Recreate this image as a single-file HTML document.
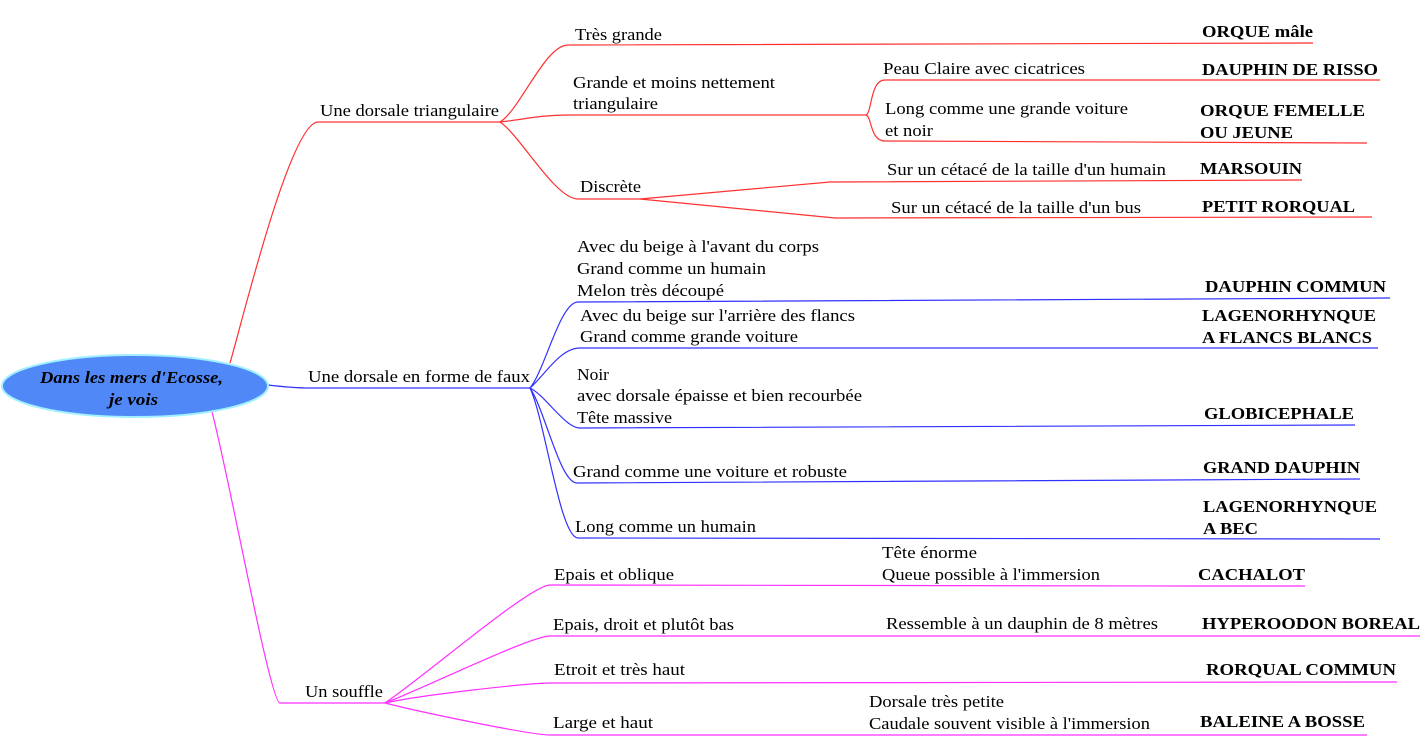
<!DOCTYPE html>
<html><head><meta charset="utf-8"><style>
html,body{margin:0;padding:0;background:#fff;}
svg{display:block;}
text{font-family:"Liberation Serif","Times New Roman",serif;font-size:17px;fill:#000;}
.b{font-weight:bold;font-size:17px;}
</style></head><body>
<svg width="1428" height="741" viewBox="0 0 1428 741" xmlns="http://www.w3.org/2000/svg">
<g fill="none" stroke-width="1.2">
<g stroke="#ff3030">
<path d="M230,363 C240,330 290,122 318,122 L500,122"/>
<path d="M500,122 C520,110 545,45 568,45 L1313,43"/>
<path d="M500,122 C520,120 540,115 568,115 L866,115 C872,113 870,80 885,80 L1380,80"/>
<path d="M866,115 C872,117 870,141 885,141 L1367,143"/>
<path d="M500,122 C520,135 555,199 578,199 L640,199"/>
<path d="M640,199 L830,182 L1302,180"/>
<path d="M640,199 L835,218 L1372,217"/>
</g>
<g stroke="#3030ff">
<path d="M268,385 C285,387 295,388 310,388 L530,388"/>
<path d="M530,388 C545,370 560,302 578,302 L1390,298"/>
<path d="M530,388 C545,375 560,348 580,348 L1378,348"/>
<path d="M530,388 C545,395 565,428 580,428 L1355,425"/>
<path d="M530,388 C545,410 560,483 577,483 L1360,479"/>
<path d="M530,388 C545,420 560,538 578,538 L1380,539"/>
</g>
<g stroke="#ff30ff">
<path d="M212,412 C230,480 270,703 280,703 L385,703"/>
<path d="M385,703 C420,680 530,585 550,585 L1190,586 L1305,586"/>
<path d="M385,703 C420,690 530,636 550,636 L1420,636"/>
<path d="M385,703 C420,695 530,683 550,683 L1397,682"/>
<path d="M385,703 C420,712 530,735 550,735 L1367,735"/>
</g>
</g>
<ellipse cx="135" cy="386" rx="133" ry="31" fill="#5088f8" stroke="#a0f0ff" stroke-width="2"/>
<text x="40" y="383" textLength="183" lengthAdjust="spacingAndGlyphs" style="font-weight:bold;font-style:italic">Dans les mers d'Ecosse,</text>
<text x="109" y="405" textLength="49" lengthAdjust="spacingAndGlyphs" style="font-weight:bold;font-style:italic">je vois</text>

<g lengthAdjust="spacingAndGlyphs">
<text x="320" y="116" textLength="179" lengthAdjust="spacingAndGlyphs">Une dorsale triangulaire</text>
<text x="575" y="40" textLength="87" lengthAdjust="spacingAndGlyphs">Très grande</text>
<text x="573" y="88" textLength="202" lengthAdjust="spacingAndGlyphs">Grande et moins nettement</text>
<text x="573" y="109" textLength="85" lengthAdjust="spacingAndGlyphs">triangulaire</text>
<text x="883" y="74" textLength="202" lengthAdjust="spacingAndGlyphs">Peau Claire avec cicatrices</text>
<text x="885" y="114" textLength="243" lengthAdjust="spacingAndGlyphs">Long comme une grande voiture</text>
<text x="885" y="136" textLength="48" lengthAdjust="spacingAndGlyphs">et noir</text>
<text x="580" y="192" textLength="61" lengthAdjust="spacingAndGlyphs">Discrète</text>
<text x="887" y="175" textLength="279" lengthAdjust="spacingAndGlyphs">Sur un cétacé de la taille d'un humain</text>
<text x="891" y="213" textLength="250" lengthAdjust="spacingAndGlyphs">Sur un cétacé de la taille d'un bus</text>
<text class="b" x="1202" y="37" textLength="111" lengthAdjust="spacingAndGlyphs">ORQUE mâle</text>
<text class="b" x="1202" y="75" textLength="176" lengthAdjust="spacingAndGlyphs">DAUPHIN DE RISSO</text>
<text class="b" x="1200" y="116" textLength="165" lengthAdjust="spacingAndGlyphs">ORQUE FEMELLE</text>
<text class="b" x="1200" y="138" textLength="93" lengthAdjust="spacingAndGlyphs">OU JEUNE</text>
<text class="b" x="1200" y="174" textLength="102" lengthAdjust="spacingAndGlyphs">MARSOUIN</text>
<text class="b" x="1202" y="212" textLength="153" lengthAdjust="spacingAndGlyphs">PETIT RORQUAL</text>

<text x="308" y="382" textLength="222" lengthAdjust="spacingAndGlyphs">Une dorsale en forme de faux</text>
<text x="577" y="252" textLength="242" lengthAdjust="spacingAndGlyphs">Avec du beige à l'avant du corps</text>
<text x="577" y="274" textLength="189" lengthAdjust="spacingAndGlyphs">Grand comme un humain</text>
<text x="577" y="296" textLength="147" lengthAdjust="spacingAndGlyphs">Melon très découpé</text>
<text x="580" y="321" textLength="275" lengthAdjust="spacingAndGlyphs">Avec du beige sur l'arrière des flancs</text>
<text x="580" y="342" textLength="218" lengthAdjust="spacingAndGlyphs">Grand comme grande voiture</text>
<text x="577" y="380" textLength="32" lengthAdjust="spacingAndGlyphs">Noir</text>
<text x="577" y="401" textLength="285" lengthAdjust="spacingAndGlyphs">avec dorsale épaisse et bien recourbée</text>
<text x="577" y="423" textLength="95" lengthAdjust="spacingAndGlyphs">Tête massive</text>
<text x="573" y="477" textLength="274" lengthAdjust="spacingAndGlyphs">Grand comme une voiture et robuste</text>
<text x="575" y="532" textLength="181" lengthAdjust="spacingAndGlyphs">Long comme un humain</text>
<text class="b" x="1205" y="292" textLength="181" lengthAdjust="spacingAndGlyphs">DAUPHIN COMMUN</text>
<text class="b" x="1202" y="321" textLength="174" lengthAdjust="spacingAndGlyphs">LAGENORHYNQUE</text>
<text class="b" x="1202" y="343" textLength="170" lengthAdjust="spacingAndGlyphs">A FLANCS BLANCS</text>
<text class="b" x="1204" y="419" textLength="150" lengthAdjust="spacingAndGlyphs">GLOBICEPHALE</text>
<text class="b" x="1203" y="473" textLength="157" lengthAdjust="spacingAndGlyphs">GRAND DAUPHIN</text>
<text class="b" x="1203" y="512" textLength="174" lengthAdjust="spacingAndGlyphs">LAGENORHYNQUE</text>
<text class="b" x="1203" y="534" textLength="55" lengthAdjust="spacingAndGlyphs">A BEC</text>

<text x="305" y="697" textLength="78" lengthAdjust="spacingAndGlyphs">Un souffle</text>
<text x="554" y="580" textLength="120" lengthAdjust="spacingAndGlyphs">Epais et oblique</text>
<text x="882" y="558" textLength="95" lengthAdjust="spacingAndGlyphs">Tête énorme</text>
<text x="882" y="580" textLength="218" lengthAdjust="spacingAndGlyphs">Queue possible à l'immersion</text>
<text x="553" y="630" textLength="181" lengthAdjust="spacingAndGlyphs">Epais, droit et plutôt bas</text>
<text x="886" y="629" textLength="272" lengthAdjust="spacingAndGlyphs">Ressemble à un dauphin de 8 mètres</text>
<text x="554" y="675" textLength="131" lengthAdjust="spacingAndGlyphs">Etroit et très haut</text>
<text x="553" y="728" textLength="100" lengthAdjust="spacingAndGlyphs">Large et haut</text>
<text x="869" y="707" textLength="135" lengthAdjust="spacingAndGlyphs">Dorsale très petite</text>
<text x="869" y="729" textLength="281" lengthAdjust="spacingAndGlyphs">Caudale souvent visible à l'immersion</text>
<text class="b" x="1198" y="580" textLength="107" lengthAdjust="spacingAndGlyphs">CACHALOT</text>
<text class="b" x="1202" y="629" textLength="218" lengthAdjust="spacingAndGlyphs">HYPEROODON BOREAL</text>
<text class="b" x="1206" y="675" textLength="190" lengthAdjust="spacingAndGlyphs">RORQUAL COMMUN</text>
<text class="b" x="1200" y="727" textLength="165" lengthAdjust="spacingAndGlyphs">BALEINE A BOSSE</text>
</g>
</svg>
</body></html>
